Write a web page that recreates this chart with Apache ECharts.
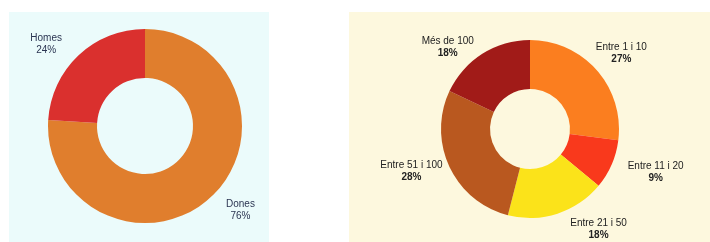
<!DOCTYPE html>
<html>
<head>
<meta charset="utf-8">
<script src="https://cdn.jsdelivr.net/npm/echarts@6/dist/echarts.min.js"></script>
<style>
  html, body { margin: 0; padding: 0; background: #fff; }
  #main { width: 710px; height: 242px; }
</style>
</head>
<body>
<div id="main"></div>
<script>
// sexe
var sexNames = ['Dones', 'Homes'];
var sexValues = [76, 24];
var sexColors = ['#e07e2d', '#da302e'];

// mida
var sizeNames = ['Entre 1 i 10', 'Entre 11 i 20', 'Entre 21 i 50', 'Entre 51 i 100', 'Més de 100'];
var sizeValues = [27, 9, 18, 28, 18];
var sizeColors = ['#fb7e1f', '#f9391c', '#fbe31a', '#b9581f', '#a11b18'];

function toData(names, values) {
    var out = [];
    for (var i = 0; i < names.length; i++) {
        out.push({name: names[i], value: values[i]});
    }
    return out;
}

var dom = document.getElementById('main');
var myChart = echarts.init(dom, null, {renderer: 'canvas'});

var option = {
    animation: false,
    graphic: [
        {type: 'rect', shape: {x: 9, y: 12, width: 260, height: 230}, style: {fill: '#ebfbfb'}, z: -10},
        {type: 'rect', shape: {x: 349, y: 12, width: 361, height: 230}, style: {fill: '#fdf8de'}, z: -10}
    ],
    series: [
        {
            type: 'pie',
            center: [145, 126],
            radius: [48, 97],
            startAngle: 90,
            clockwise: true,
            color: sexColors,
            data: toData(sexNames, sexValues),
            label: {
                position: 'outside',
                formatter: '{n|{b}}\n{n|{c}%}',
                rich: {
                    n: {fontSize: 10, lineHeight: 12, color: '#2b3552', align: 'center', fontFamily: 'Liberation Sans'}
                }
            },
            labelLine: {show: false, length: 14, length2: 0},
            labelLayout: function (params) {
                // petits ajustos per centrar com a l'original
                if (params.dataIndex === 1) return {dx: -2, dy: -1};
                return {dx: 0, dy: 3};
            },
            emphasis: {disabled: true}
        },
        {
            type: 'pie',
            center: [530, 129],
            radius: [40, 89],
            startAngle: 90,
            clockwise: true,
            color: sizeColors,
            data: toData(sizeNames, sizeValues),
            label: {
                position: 'outside',
                formatter: '{n|{b}}\n{p|{c}%}',
                rich: {
                    n: {fontSize: 10, lineHeight: 12, color: '#222', align: 'center', fontFamily: 'Liberation Sans'},
                    p: {fontSize: 10, lineHeight: 12, color: '#222', fontWeight: 'bold', align: 'center', fontFamily: 'Liberation Sans'}
                }
            },
            labelLine: {show: false, length: 12, length2: 0},
            labelLayout: function (params) {
                var nudge = [[-15, -9], [0, 3], [4, 4], [9, -1], [3, 4]][params.dataIndex];
                return {dx: nudge[0], dy: nudge[1]};
            },
            emphasis: {disabled: true}
        }
    ]
};

myChart.setOption(option);
</script>
</body>
</html>
